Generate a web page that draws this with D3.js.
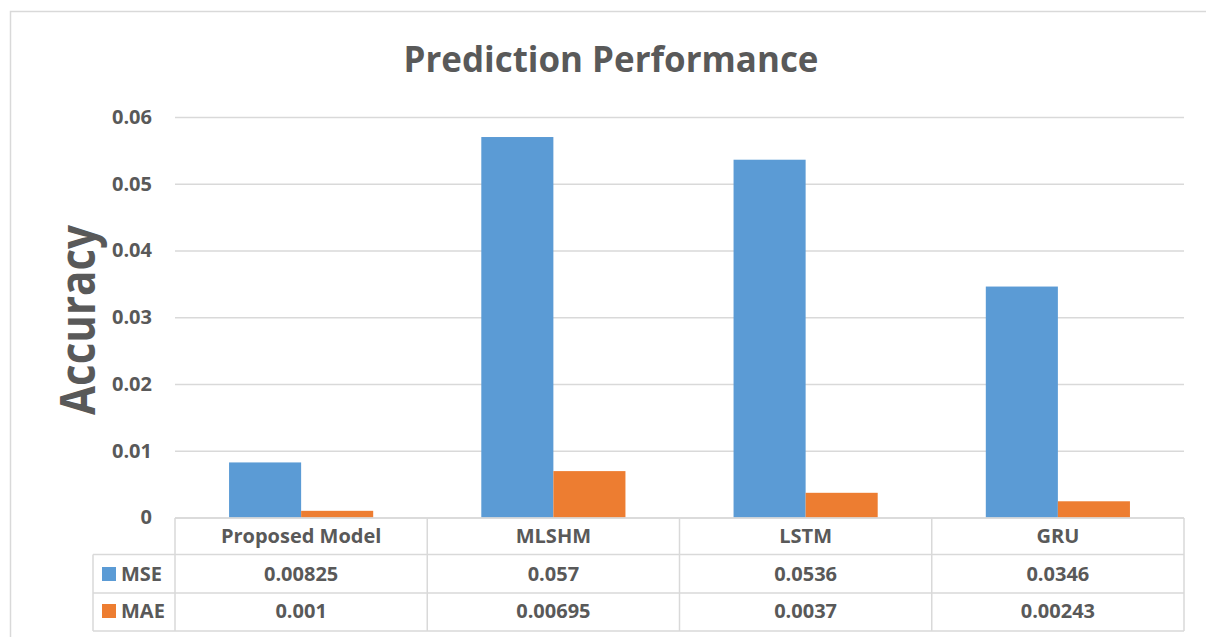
<!DOCTYPE html>
<html>
<head>
<meta charset="utf-8">
<script src="https://cdn.jsdelivr.net/npm/d3@7"></script>
<style>
  html, body { margin: 0; padding: 0; background: #fff; }
  svg { display: block; font-family: "Open Sans", "DejaVu Sans", sans-serif; }
</style>
</head>
<body>
<svg id="chart" width="1206" height="637"></svg>
<script>
// Model names along the x axis / table header
const categories = ["Proposed Model", "MLSHM", "LSTM", "GRU"];
// Error series
const seriesNames = ["MSE", "MAE"];
const mseValues = [0.00825, 0.057, 0.0536, 0.0346];
const maeValues = [0.001, 0.00695, 0.0037, 0.00243];
const seriesColors = ["#5B9BD5", "#ED7D31"];
// Y axis ticks
const yTicks = [0, 0.01, 0.02, 0.03, 0.04, 0.05, 0.06];
const tableLabels = [["0.00825", "0.057", "0.0536", "0.0346"], ["0.001", "0.00695", "0.0037", "0.00243"]];

const series = [mseValues, maeValues];
const textColor = "#595959";
const lineColor = "#d9d9d9";

const svg = d3.select("#chart");

// plot area
const plotLeft = 175, plotRight = 1184, plotTop = 117, plotBottom = 517.5;

// outer chart frame (runs off the right and bottom edges)
svg.append("rect")
  .attr("x", 10.5).attr("y", 11.5)
  .attr("width", 1400).attr("height", 800)
  .attr("fill", "none").attr("stroke", lineColor).attr("stroke-width", 1.5);

// title
svg.append("text")
  .attr("x", 611).attr("y", 72)
  .attr("text-anchor", "middle")
  .attr("font-size", 36).attr("font-weight", 700)
  .attr("fill", textColor)
  .attr("textLength", 415).attr("lengthAdjust", "spacingAndGlyphs")
  .text("Prediction Performance");

const y = d3.scaleLinear().domain([0, 0.06]).range([plotBottom, plotTop]);
const x0 = d3.scaleBand().domain(categories).range([plotLeft, plotRight]).padding(0);
const x1 = d3.scaleBand().domain(seriesNames).range([0, x0.bandwidth()])
  .paddingInner(0).paddingOuter(0.75);

// y axis with gridlines
const yAxis = svg.append("g")
  .attr("transform", `translate(${plotLeft},0)`)
  .call(d3.axisLeft(y)
    .tickValues(yTicks)
    .tickSize(-(plotRight - plotLeft))
    .tickPadding(23)
    .tickFormat(d => d === 0 ? "0" : d3.format(".2f")(d)));
yAxis.select(".domain").remove();
yAxis.selectAll(".tick line").attr("stroke", lineColor).attr("stroke-width", 1.5);
yAxis.selectAll(".tick text")
  .attr("fill", textColor)
  .attr("font-size", 20).attr("font-weight", 700)
  .attr("font-family", "'Open Sans', sans-serif");

// y axis title
svg.append("text")
  .attr("transform", "translate(95,320) rotate(-90)")
  .attr("text-anchor", "middle")
  .attr("font-size", 48).attr("font-weight", 700)
  .attr("fill", textColor)
  .attr("textLength", 190).attr("lengthAdjust", "spacingAndGlyphs")
  .text("Accuracy");

// bars
const groups = svg.append("g").selectAll("g")
  .data(categories)
  .join("g")
  .attr("transform", d => `translate(${x0(d)},0)`);

groups.selectAll("rect")
  .data((c, i) => seriesNames.map((s, j) => ({ s, j, v: series[j][i] })))
  .join("rect")
  .attr("x", d => x1(d.s))
  .attr("y", d => y(d.v))
  .attr("width", x1.bandwidth())
  .attr("height", d => y(0) - y(d.v))
  .attr("fill", d => seriesColors[d.j]);

// data table below the plot
const rowTops = [518, 554.5, 593];
const rowBottom = 631;
const legendLeft = 93;
const table = svg.append("g")
  .attr("fill", "none").attr("stroke", lineColor).attr("stroke-width", 1.5);

// horizontal rules
table.append("line").attr("x1", plotLeft).attr("x2", plotRight).attr("y1", rowTops[0]).attr("y2", rowTops[0]);
[rowTops[1], rowTops[2], rowBottom].forEach(yy => {
  table.append("line").attr("x1", legendLeft).attr("x2", plotRight).attr("y1", yy).attr("y2", yy);
});
// vertical rules
table.append("line").attr("x1", legendLeft).attr("x2", legendLeft).attr("y1", rowTops[1]).attr("y2", rowBottom);
categories.forEach(c => {
  table.append("line").attr("x1", x0(c)).attr("x2", x0(c)).attr("y1", rowTops[0]).attr("y2", rowBottom);
});
table.append("line").attr("x1", plotRight).attr("x2", plotRight).attr("y1", rowTops[0]).attr("y2", rowBottom);

const cellText = svg.append("g")
  .attr("fill", textColor).attr("font-size", 20).attr("font-weight", 700)
  .attr("text-anchor", "middle");

// header row
cellText.selectAll("text.head")
  .data(categories)
  .join("text")
  .attr("class", "head")
  .attr("x", d => x0(d) + x0.bandwidth() / 2)
  .attr("y", 543)
  .text(d => d);

// value rows
const baselines = [581, 618];
seriesNames.forEach((s, j) => {
  cellText.append("g").selectAll("text")
    .data(categories)
    .join("text")
    .attr("x", d => x0(d) + x0.bandwidth() / 2)
    .attr("y", baselines[j])
    .text((d, i) => tableLabels[j][i]);

  // legend key
  svg.append("rect")
    .attr("x", 102).attr("y", baselines[j] - 14)
    .attr("width", 14).attr("height", 14)
    .attr("fill", seriesColors[j]);
  svg.append("text")
    .attr("x", 121).attr("y", baselines[j])
    .attr("fill", textColor).attr("font-size", 20).attr("font-weight", 700)
    .text(s);
});
</script>
</body>
</html>
